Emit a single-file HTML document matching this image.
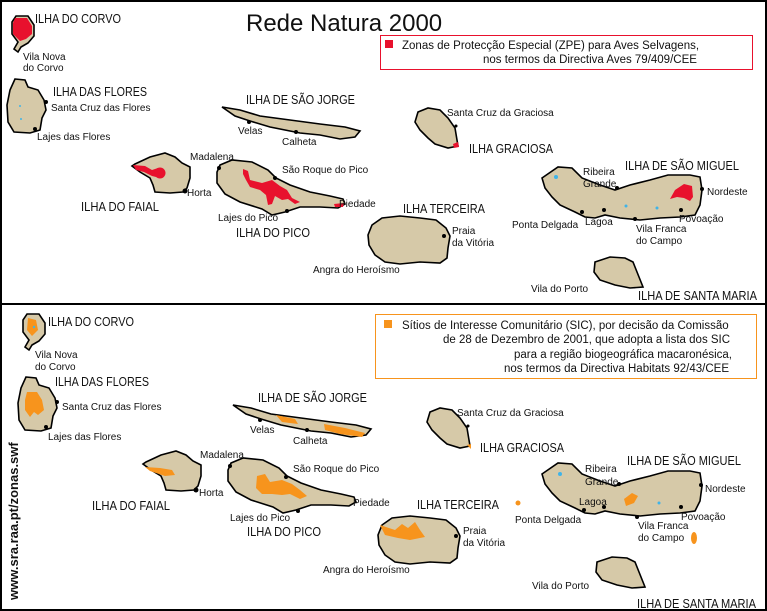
<!DOCTYPE html>
<html><head><meta charset="utf-8"><style>
html,body{margin:0;padding:0;background:#fff}
svg{display:block}
text{font-family:"Liberation Sans",sans-serif;fill:#111}
.n{font-size:13px}
.t{font-size:10px}
.l{font-size:11.5px}
</style></head><body>
<svg width="767" height="611" viewBox="0 0 767 611" xmlns="http://www.w3.org/2000/svg">
<defs>
<g id="corvo"><polygon points="16,16 28,16 34,25 34,36 28,43 21,47 18,52 14,49 18,42 12,34 12,22"/></g>
<g id="flores"><polygon points="15,79 25,80 28,87 38,90 44,100 46,110 42,118 40,130 30,133 14,132 8,122 7,105 10,90"/></g>
<g id="jorge"><polygon points="222,107 240,110 260,116 290,120 320,124 345,127 360,131 355,137 340,139 320,135 300,133 290,131 270,127 250,121 235,116"/></g>
<g id="faial"><polygon points="135,164 150,157 165,153 175,157 182,163 190,167 190,178 187,188 183,192 170,193 155,192 153,185 150,178 140,172 132,166"/></g>
<g id="pico"><polygon points="220,165 232,160 252,162 268,170 276,178 290,185 310,192 330,196 343,199 345,204 338,208 320,207 300,207 285,212 272,215 262,209 240,202 225,194 217,183 217,172"/></g>
<g id="grac"><polygon points="418,112 428,108 440,110 448,118 455,128 457,140 458,146 448,148 435,144 428,138 420,130 415,122"/></g>
<g id="terc"><polygon points="372,225 382,218 400,216 420,218 436,220 446,228 450,236 448,248 447,258 440,263 420,262 400,264 385,262 375,255 369,245 368,235"/></g>
<g id="migu"><polygon points="542,178 558,167 572,168 582,178 600,185 615,190 630,185 650,180 668,175 690,175 700,177 702,190 700,205 695,215 680,217 660,218 640,220 620,218 605,215 595,218 585,217 575,212 560,205 552,197 545,188"/></g>
<g id="smar"><polygon points="595,262 610,257 625,258 633,262 637,272 643,287 630,288 615,285 600,280 594,272"/></g>
</defs>
<rect x="1" y="1" width="765" height="609" fill="#fff" stroke="#000" stroke-width="2"/>
<line x1="0" y1="304" x2="767" y2="304" stroke="#000" stroke-width="2"/>

<g fill="#d6c9a8" stroke="#000" stroke-width="1.6">
<use href="#corvo"/><use href="#flores"/><use href="#jorge"/><use href="#faial"/><use href="#pico"/>
<use href="#grac"/><use href="#terc"/><use href="#migu"/><use href="#smar"/>
</g>
<g fill="#e8112d">
<polygon points="15,18 27,18 32,26 32,34 26,39 20,41 13,34 13,23"/>
<polygon points="133,165 145,166 152,170 158,168 164,172 160,178 152,176 144,172 136,170"/>
<circle cx="160" cy="173" r="5.5"/>
<polygon points="243,169 248,171 250,180 262,183 272,180 280,186 287,190 292,198 300,202 295,204 288,199 282,200 275,196 272,204 268,205 266,195 260,190 250,187 246,180 243,174"/>
<polygon points="334,204 344,203 343,207 335,207"/>
<polygon points="675,190 684,184 692,186 693,197 690,201 684,198 677,197 670,199"/>
<polygon points="453,144 458,142 459,147 454,148"/>
</g>
<g fill="#3fb4e8"><circle cx="556" cy="177" r="2"/><circle cx="20" cy="106" r="1"/><circle cx="21" cy="119" r="1"/><circle cx="626" cy="206" r="1.5"/><circle cx="657" cy="208" r="1.5"/></g>
<g fill="#000"><circle cx="46" cy="102" r="2"/><circle cx="35" cy="129" r="2"/><circle cx="249" cy="122" r="2"/><circle cx="296" cy="132" r="2"/><circle cx="185" cy="191" r="2.5"/><circle cx="219" cy="168" r="2"/><circle cx="275" cy="178" r="2"/><circle cx="287" cy="211" r="2"/><circle cx="456" cy="126" r="1.5"/><circle cx="444" cy="236" r="2"/><circle cx="617" cy="188" r="2"/><circle cx="702" cy="189" r="2"/><circle cx="681" cy="210" r="2"/><circle cx="635" cy="219" r="2"/><circle cx="604" cy="210" r="2"/><circle cx="582" cy="212" r="2"/></g>

<text x="246" y="31" style="font-size:24px">Rede Natura 2000</text>
<rect x="380.5" y="35.5" width="372" height="34" fill="none" stroke="#e8112d" stroke-width="1"/>
<rect x="385" y="40" width="8" height="8" fill="#e8112d"/>
<text class="l" x="402" y="49">Zonas de Protecção Especial (ZPE) para Aves Selvagens,</text>
<text class="l" x="483" y="63">nos termos da Directiva Aves 79/409/CEE</text>

<text class="n" x="35" y="23" textLength="86" lengthAdjust="spacingAndGlyphs">ILHA DO CORVO</text>
<text class="t" x="23" y="60">Vila Nova</text><text class="t" x="23" y="71">do Corvo</text>
<text class="n" x="53" y="96" textLength="94" lengthAdjust="spacingAndGlyphs">ILHA DAS FLORES</text>
<text class="t" x="51" y="111">Santa Cruz das Flores</text>
<text class="t" x="37" y="140">Lajes das Flores</text>
<text class="n" x="246" y="104" textLength="109" lengthAdjust="spacingAndGlyphs">ILHA DE SÃO JORGE</text>
<text class="t" x="238" y="134">Velas</text><text class="t" x="282" y="145">Calheta</text>
<text class="t" x="190" y="160">Madalena</text><text class="t" x="282" y="173">São Roque do Pico</text>
<text class="t" x="187" y="196">Horta</text><text class="n" x="81" y="211" textLength="78" lengthAdjust="spacingAndGlyphs">ILHA DO FAIAL</text>
<text class="t" x="339" y="207">Piedade</text><text class="t" x="218" y="221">Lajes do Pico</text>
<text class="n" x="236" y="237" textLength="74" lengthAdjust="spacingAndGlyphs">ILHA DO PICO</text>
<text class="t" x="313" y="273">Angra do Heroísmo</text>
<text class="t" x="447" y="116">Santa Cruz da Graciosa</text>
<text class="n" x="469" y="153" textLength="84" lengthAdjust="spacingAndGlyphs">ILHA GRACIOSA</text>
<text class="n" x="625" y="170" textLength="114" lengthAdjust="spacingAndGlyphs">ILHA DE SÃO MIGUEL</text>
<text class="t" x="583" y="175">Ribeira</text><text class="t" x="583" y="187">Grande</text>
<text class="t" x="707" y="195">Nordeste</text>
<text class="n" x="403" y="213" textLength="82" lengthAdjust="spacingAndGlyphs">ILHA TERCEIRA</text>
<text class="t" x="452" y="234">Praia</text><text class="t" x="452" y="246">da Vitória</text>
<text class="t" x="512" y="228">Ponta Delgada</text><text class="t" x="585" y="225">Lagoa</text>
<text class="t" x="679" y="222">Povoação</text>
<text class="t" x="636" y="232">Vila Franca</text><text class="t" x="636" y="244">do Campo</text>
<text class="t" x="531" y="292">Vila do Porto</text>
<text class="n" x="638" y="300" textLength="119" lengthAdjust="spacingAndGlyphs">ILHA DE SANTA MARIA</text>

<g fill="#d6c9a8" stroke="#000" stroke-width="1.6">
<g transform="translate(11,298)"><use href="#corvo"/><use href="#flores"/><use href="#jorge"/><use href="#faial"/><use href="#pico"/></g>
<use href="#grac" transform="translate(12,300)"/><use href="#terc" transform="translate(10,300)"/>
<use href="#migu" transform="translate(0,296)"/><use href="#smar" transform="translate(2,300)"/>
</g>
<g fill="#f7941d">
<polygon points="28,318 36,320 38,330 32,336 27,330"/>
<polygon points="27,392 37,392 42,400 44,410 38,415 34,412 30,417 25,410 25,400"/>
<polygon points="276,415 295,419 298,424 282,422"/>
<polygon points="324,424 345,428 365,433 362,437 340,434 325,430"/>
<polygon points="145,467 160,468 172,470 175,475 165,476 150,471"/>
<polygon points="257,476 265,474 270,482 282,480 292,484 300,490 307,496 300,499 290,494 282,495 272,494 262,494 256,488"/>
<polygon points="380,525 395,530 402,524 408,528 415,522 420,530 425,537 410,540 398,538 385,535"/>
<polygon points="624,499 632,493 638,496 634,503 626,506"/>
<ellipse cx="694" cy="538" rx="3" ry="6"/>
<circle cx="518" cy="503" r="2.5"/>
<polygon points="467,445 471,444 471,449"/>
</g>
<g fill="#3fb4e8"><circle cx="560" cy="474" r="2"/><circle cx="659" cy="503" r="1.5"/><circle cx="34" cy="327" r="1.2"/></g>
<g fill="#000"><circle cx="57" cy="402" r="2"/><circle cx="46" cy="427" r="2"/><circle cx="260" cy="420" r="2"/><circle cx="307" cy="430" r="2"/><circle cx="196" cy="490" r="2.5"/><circle cx="230" cy="466" r="2"/><circle cx="286" cy="477" r="2"/><circle cx="298" cy="511" r="2"/><circle cx="468" cy="426" r="1.5"/><circle cx="456" cy="536" r="2"/><circle cx="619" cy="484" r="2"/><circle cx="701" cy="485" r="2"/><circle cx="681" cy="507" r="2"/><circle cx="637" cy="517" r="2"/><circle cx="604" cy="507" r="2"/><circle cx="584" cy="510" r="2"/></g>

<rect x="375.5" y="314.5" width="381" height="64" fill="none" stroke="#f7941d" stroke-width="1"/>
<rect x="384" y="320" width="8" height="8" fill="#f7941d"/>
<text class="l" x="402" y="329">Sítios de Interesse Comunitário (SIC), por decisão da Comissão</text>
<text class="l" x="443" y="343">de 28 de Dezembro de 2001, que adopta a lista dos SIC</text>
<text class="l" x="514" y="358">para a região biogeográfica macaronésica,</text>
<text class="l" x="504" y="372">nos termos da Directiva Habitats 92/43/CEE</text>

<text class="n" x="48" y="326" textLength="86" lengthAdjust="spacingAndGlyphs">ILHA DO CORVO</text>
<text class="t" x="35" y="358">Vila Nova</text><text class="t" x="35" y="370">do Corvo</text>
<text class="n" x="55" y="386" textLength="94" lengthAdjust="spacingAndGlyphs">ILHA DAS FLORES</text>
<text class="t" x="62" y="410">Santa Cruz das Flores</text>
<text class="t" x="48" y="440">Lajes das Flores</text>
<text class="n" x="258" y="402" textLength="109" lengthAdjust="spacingAndGlyphs">ILHA DE SÃO JORGE</text>
<text class="t" x="250" y="433">Velas</text><text class="t" x="293" y="444">Calheta</text>
<text class="t" x="200" y="458">Madalena</text><text class="t" x="293" y="472">São Roque do Pico</text>
<text class="t" x="199" y="496">Horta</text><text class="n" x="92" y="510" textLength="78" lengthAdjust="spacingAndGlyphs">ILHA DO FAIAL</text>
<text class="t" x="353" y="506">Piedade</text><text class="t" x="230" y="521">Lajes do Pico</text>
<text class="n" x="247" y="536" textLength="74" lengthAdjust="spacingAndGlyphs">ILHA DO PICO</text>
<text class="t" x="323" y="573">Angra do Heroísmo</text>
<text class="t" x="457" y="416">Santa Cruz da Graciosa</text>
<text class="n" x="480" y="452" textLength="84" lengthAdjust="spacingAndGlyphs">ILHA GRACIOSA</text>
<text class="n" x="627" y="465" textLength="114" lengthAdjust="spacingAndGlyphs">ILHA DE SÃO MIGUEL</text>
<text class="t" x="585" y="472">Ribeira</text><text class="t" x="585" y="485">Grande</text>
<text class="t" x="705" y="492">Nordeste</text>
<text class="n" x="417" y="509" textLength="82" lengthAdjust="spacingAndGlyphs">ILHA TERCEIRA</text>
<text class="t" x="463" y="534">Praia</text><text class="t" x="463" y="546">da Vitória</text>
<text class="t" x="515" y="523">Ponta Delgada</text><text class="t" x="579" y="505">Lagoa</text>
<text class="t" x="681" y="520">Povoação</text>
<text class="t" x="638" y="529">Vila Franca</text><text class="t" x="638" y="541">do Campo</text>
<text class="t" x="532" y="589">Vila do Porto</text>
<text class="n" x="637" y="608" textLength="119" lengthAdjust="spacingAndGlyphs">ILHA DE SANTA MARIA</text>

<text x="18" y="600" transform="rotate(-90 18 600)" style="font-size:13px;font-weight:bold">www.sra.raa.pt/zonas.swf</text>
</svg>
</body></html>
